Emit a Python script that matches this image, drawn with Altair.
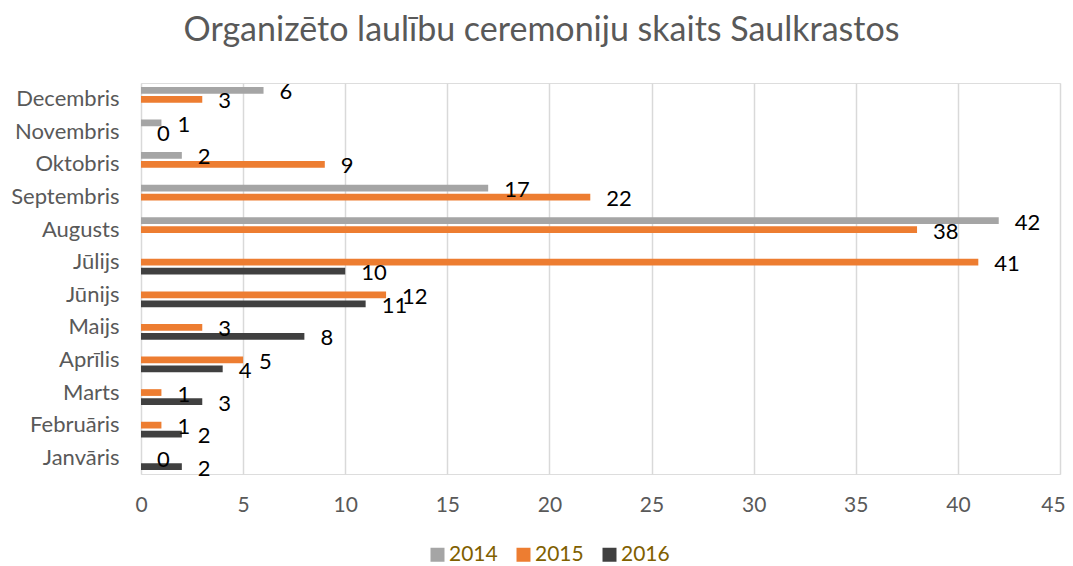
import altair as alt
import pandas as pd

# ---- data ----
months = ["Janvāris", "Februāris", "Marts", "Aprīlis", "Maijs", "Jūnijs",
          "Jūlijs\u00a0", "Augusts", "Septembris", "Oktobris", "Novembris", "Decembris"]
years = ["2014", "2015", "2016"]
v2014 = [None, None, None, None, None, None, None, 42, 17, 2, 1, 6]
v2015 = [0, 1, 1, 5, 3, 12, 41, 38, 22, 9, 0, 3]
v2016 = [2, 2, 3, 4, 8, 11, 10, None, None, None, None, None]
colors = ["#A5A5A5", "#ED7D31", "#404040"]
x_ticks = [0, 5, 10, 15, 20, 25, 30, 35, 40, 45]
title_text = "Organizēto laulību ceremoniju skaits Saulkrastos"

rows = []
for yr, vals in zip(years, [v2014, v2015, v2016]):
    for m, v in zip(months, vals):
        if v is not None:
            rows.append({"Mēnesis": m, "Gads": yr, "Skaits": v})
df = pd.DataFrame(rows)

FONT = "Lato"
GREY_TXT = "#595959"
order = months[::-1]

base = alt.Chart(df).encode(
    y=alt.Y("Mēnesis:N", sort=order,
            scale=alt.Scale(domain=order, paddingInner=0, paddingOuter=0),
            axis=alt.Axis(title=None, labelFont=FONT, labelFontSize=22,
                          labelColor=GREY_TXT, labelPadding=22, ticks=False,
                          domain=False, grid=False)),
    yOffset=alt.YOffset("Gads:N",
                        scale=alt.Scale(domain=years, paddingInner=0.25, paddingOuter=0.436)),
    x=alt.X("Skaits:Q", scale=alt.Scale(domain=[0, 45], nice=False),
            axis=alt.Axis(values=x_ticks, title=None, labelFont=FONT, labelFontSize=21,
                          labelColor=GREY_TXT, labelPadding=20.5, ticks=False,
                          labelFlush=False, domain=False,
                          labelOffset={"condition": {"test": "datum.value === 45", "value": -7},
                                       "value": 0},
                          gridColor="#D9D9D9", gridWidth=1.5)),
)

bars = base.mark_bar().encode(
    color=alt.Color("Gads:N", scale=alt.Scale(domain=years, range=colors),
                    legend=alt.Legend(title=None, orient="none", direction="horizontal",
                                      legendX=286, legendY=461, padding=0,
                                      symbolType="square", symbolSize=196,
                                      symbolStrokeWidth=0, symbolOpacity=1,
                                      labelFont=FONT, labelFontSize=21,
                                      labelColor="#7F6000", labelOffset=1,
                                      columnPadding=15))
)

labels = base.mark_text(align="left", baseline="middle", dx=16, dy=2,
                        font=FONT, fontSize=22, color="#000000").encode(
    text="Skaits:Q"
)

chart = alt.layer(bars, labels).properties(
    width=919, height=391,
    autosize=alt.AutoSizeParams(type="none"),
    padding={"left": 133, "top": 75, "right": 5, "bottom": 92},
    title=alt.TitleParams(text=title_text, anchor="middle", frame="group", dx=-59,
                          offset=6, baseline="alphabetic", font=FONT, fontSize=34,
                          fontWeight="normal", color=GREY_TXT),
).configure_view(strokeWidth=0).configure(background="white")

chart.save("out.html", embed_options={"renderer": "svg", "actions": False})
